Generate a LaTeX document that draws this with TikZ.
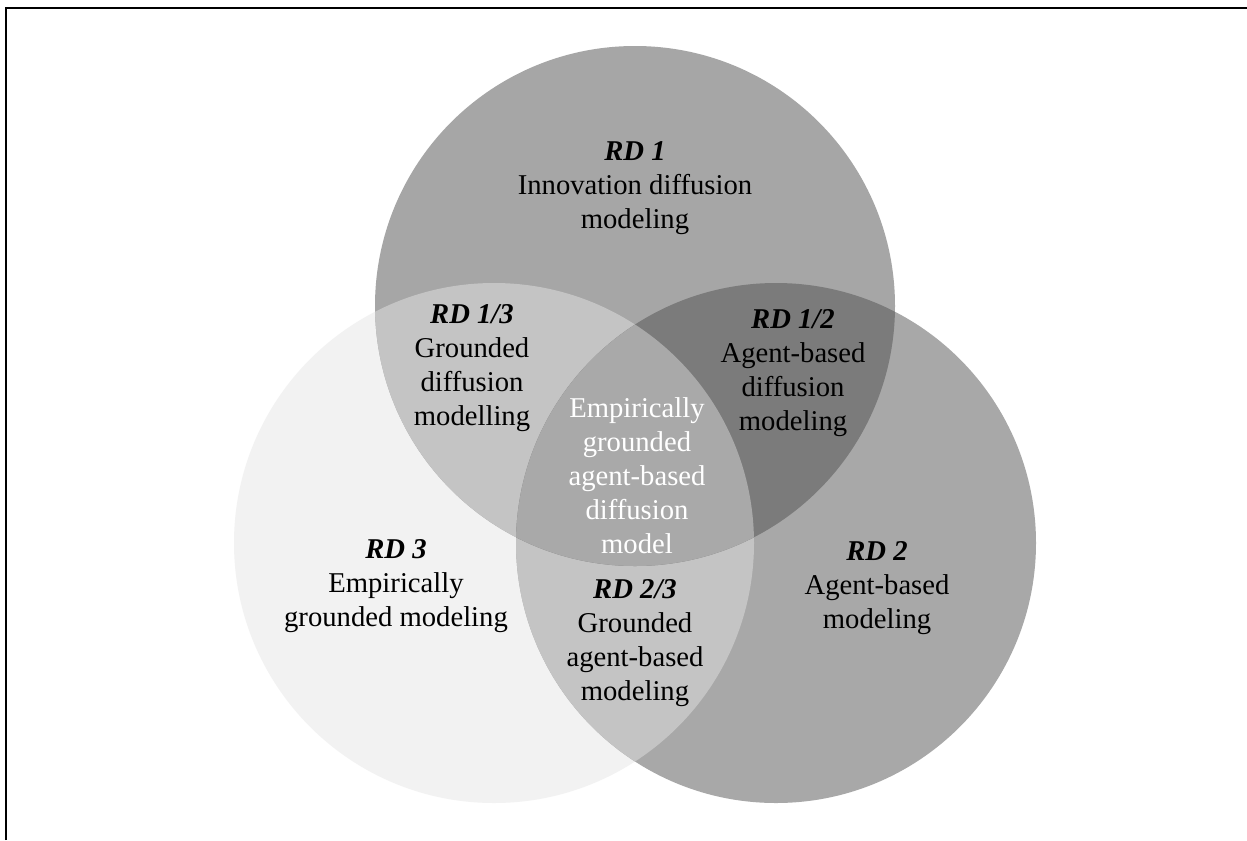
\documentclass[tikz,border=0pt]{standalone}
\usepackage{fontspec}
\setmainfont{Liberation Serif}
\definecolor{cLeft}{HTML}{F2F2F2}
\definecolor{cTop}{HTML}{A6A6A6}
\definecolor{cRight}{HTML}{A8A8A8}
\definecolor{cTL}{HTML}{C4C4C4}
\definecolor{cLR}{HTML}{C4C4C4}
\definecolor{cTR}{HTML}{7B7B7B}
\definecolor{cAll}{HTML}{A9A9A9}
\tikzset{
  lbl/.style={align=center, font=\fontsize{21.5}{25.5}\selectfont, inner sep=0pt},
  frameline/.style={line width=1.6pt, black}
}
\newcommand{\rdl}[1]{\textbf{\textit{#1}}}
\begin{document}
\begin{tikzpicture}[x=0.75pt,y=-0.75pt]
\useasboundingbox (0,0) rectangle (1247,840);
\fill[white] (0,0) rectangle (1247,840);
% frame (top and left only)
\coordinate (fA) at (6,840);
\coordinate (fB) at (6,8);
\coordinate (fC) at (1247,8);
\draw[frameline] (fA) -- (fB) -- (fC);
% circle centres
\coordinate (T) at (635,306);
\coordinate (L) at (494,543);
\coordinate (R) at (776,543);
\def\rr{260}
% base circles
\fill[cLeft] (L) circle[radius=\rr];
\fill[cTop] (T) circle[radius=\rr];
\fill[cRight] (R) circle[radius=\rr];
% pairwise overlaps
\begin{scope}
  \clip (T) circle[radius=\rr];
  \fill[cTL] (L) circle[radius=\rr];
\end{scope}
\begin{scope}
  \clip (L) circle[radius=\rr];
  \fill[cLR] (R) circle[radius=\rr];
\end{scope}
\begin{scope}
  \clip (T) circle[radius=\rr];
  \fill[cTR] (R) circle[radius=\rr];
\end{scope}
% triple overlap
\begin{scope}
  \clip (T) circle[radius=\rr];
  \clip (L) circle[radius=\rr];
  \fill[cAll] (R) circle[radius=\rr];
\end{scope}
% labels
\node[lbl] (rd1) at (635,188) {\rdl{RD 1}\\Innovation diffusion\\modeling};
\node[lbl] (rd13) at (472,368) {\rdl{RD 1/3}\\Grounded\\diffusion\\modelling};
\node[lbl] (rd12) at (793,373) {\rdl{RD 1/2}\\Agent-based\\diffusion\\modeling};
\node[lbl, text=white] (rdc) at (637,476) {Empirically\\grounded\\agent-based\\diffusion\\model};
\node[lbl] (rd3) at (396,586) {\rdl{RD 3}\\Empirically\\grounded modeling};
\node[lbl] (rd23) at (635,643) {\rdl{RD 2/3}\\Grounded\\agent-based\\modeling};
\node[lbl] (rd2) at (877,588) {\rdl{RD 2}\\Agent-based\\modeling};
\end{tikzpicture}
\end{document}
